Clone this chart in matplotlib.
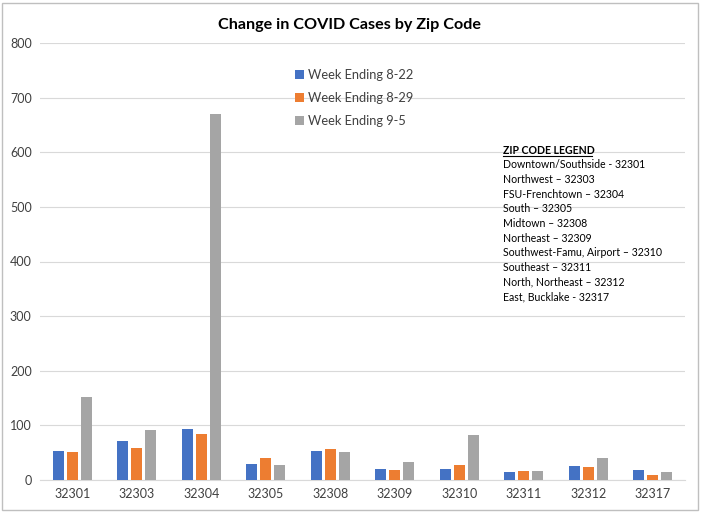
import matplotlib
matplotlib.use("Agg")
import matplotlib.pyplot as plt
import numpy as np
from matplotlib.patches import Rectangle

zips = ["32301", "32303", "32304", "32305", "32308", "32309", "32310", "32311", "32312", "32317"]
wk_822 = [53, 72, 93, 30, 54, 21, 21, 14, 26, 18]
wk_829 = [51, 59, 85, 40, 56, 18, 28, 16, 23, 9]
wk_95 = [152, 91, 670, 27, 51, 33, 83, 16, 40, 14]
series_names = ["Week Ending 8-22", "Week Ending 8-29", "Week Ending 9-5"]
colors = ["#4472C4", "#ED7D31", "#A5A5A5"]
yticks = [0, 100, 200, 300, 400, 500, 600, 700, 800]
legend_title = "ZIP CODE LEGEND"
legend_lines = [
    "Downtown/Southside - 32301",
    "Northwest \u2013 32303",
    "FSU-Frenchtown \u2013 32304",
    "South \u2013 32305",
    "Midtown \u2013 32308",
    "Northeast \u2013 32309",
    "Southwest-Famu, Airport \u2013 32310",
    "Southeast \u2013 32311",
    "North, Northeast \u2013 32312",
    "East, Bucklake - 32317",
]

plt.rcParams['font.family'] = ['Lato', 'DejaVu Sans']

fig = plt.figure(figsize=(7.01, 5.12), dpi=100)
W, H = 701, 512
ax = fig.add_axes([40 / W, 32 / H, (685 - 40) / W, (480 - 43) / H])

x = np.arange(len(zips))
bw = 0.17
step = 0.215
for i, (vals, name, c) in enumerate(zip([wk_822, wk_829, wk_95], series_names, colors)):
    ax.bar(x + (i - 1) * step, vals, width=bw, color=c, label=name, zorder=3)

ax.set_xlim(-0.5, len(zips) - 0.5)
ax.set_ylim(0, 800)
ax.set_yticks(yticks)
ax.set_yticklabels([str(t) for t in yticks], fontsize=9, color="#404040")
ax.set_xticks(x)
ax.set_xticklabels(zips, fontsize=9, color="#404040")
ax.tick_params(length=0, pad=6)
ax.yaxis.grid(True, color="#D9D9D9", linewidth=0.8, zorder=0)
for s in ["top", "right", "left"]:
    ax.spines[s].set_visible(False)
ax.spines["bottom"].set_color("#D9D9D9")

fig.text(350 / W, 1 - 25 / H, "Change in COVID Cases by Zip Code", ha="center", va="center",
         fontsize=11.6, fontweight="bold", color="#000000")

leg = ax.legend(loc="upper left", bbox_to_anchor=((283 - 40) / (685 - 40), 1 - (57 - 43) / (480 - 43)),
                frameon=False, fontsize=9.3, handlelength=0.7, handleheight=0.7,
                labelspacing=0.85, handletextpad=0.35)
for t in leg.get_texts():
    t.set_color("#404040")

y0 = 150
dy = 14.7
fig.text(503 / W, 1 - y0 / H, legend_title, ha="left", va="center", fontsize=7.6,
         fontweight="bold", color="#000000")
fig.add_artist(plt.Line2D([503 / W, 592 / W], [1 - (y0 + 6) / H, 1 - (y0 + 6) / H],
                          color="#000000", linewidth=0.8))
for k, line in enumerate(legend_lines):
    fig.text(503 / W, 1 - (y0 + dy * (k + 1)) / H, line, ha="left", va="center",
             fontsize=7.6, color="#000000")

fig.add_artist(Rectangle((2 / W, 2 / H), (W - 5) / W, (H - 5) / H, transform=fig.transFigure,
                         fill=False, edgecolor="#BFBFBF", linewidth=1))

fig.savefig("out.png", dpi=100)
